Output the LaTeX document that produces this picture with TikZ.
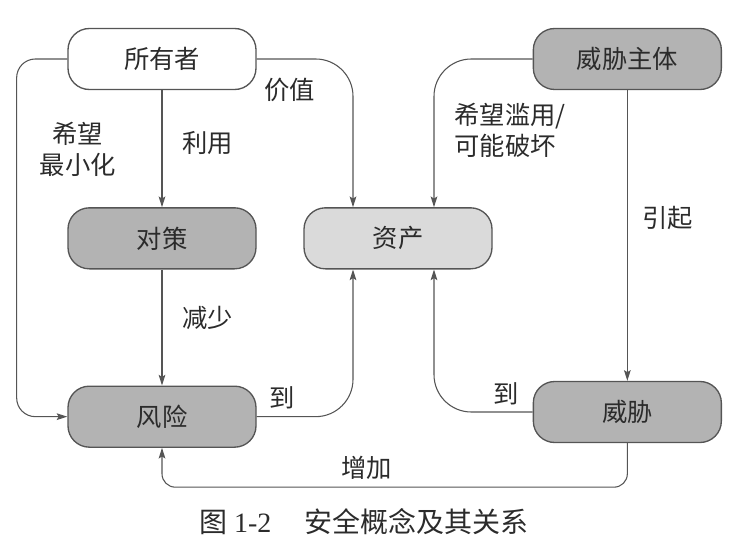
\documentclass[tikz,border=0pt]{standalone}
\usepackage{fontspec}
\usepackage{xcolor}
\usepackage{tikz}
\usetikzlibrary{arrows.meta,positioning,calc}
\setmainfont{Liberation Serif}
\newfontfamily\cjk{Noto Sans CJK SC}
\definecolor{Edge}{HTML}{555555}
\definecolor{Ink}{HTML}{2B2B2B}
\definecolor{Shade}{HTML}{B3B3B3}
\definecolor{ShadeSoft}{HTML}{DADADA}
\tikzset{
  party/.style={draw=Edge,fill=white,line width=1pt,rounded corners=16pt,minimum width=141pt,minimum height=45.75pt,align=center,text=Ink,font=\cjk\fontsize{19}{23}\selectfont},
  dark/.style={party,fill=Shade},
  light/.style={party,fill=ShadeSoft},
  link/.style={-{Stealth[length=8pt,width=5pt,inset=1.5pt]},draw=Edge,line width=.8pt,rounded corners=14pt},
  wide/.style={link,rounded corners=28pt},
  lbl/.style={inner sep=0pt,text=Ink,font=\cjk\fontsize{19}{23}\selectfont}
}
\begin{document}
\begin{tikzpicture}[x=.75pt,y=-.75pt]
  \useasboundingbox (0,0) rectangle (749,556);
  \node[party] (owner) at (162,59) {所有者};
  \node[dark,below=87.75pt of owner] (counter) {对策};
  \node[dark,below=87pt of counter] (risk) {风险};
  \node[light,right=35pt of counter] (asset) {资产};
  \node[dark,right=207pt of owner] (agent) {威胁主体};
  \node[dark,below=218pt of agent] (threat) {威胁};
  \draw[link] (owner) -- node[lbl,right=15pt,pos=.45] {利用} (counter);
  \draw[link] (counter) -- node[lbl,right=15pt,pos=.42] {减少} (risk);
  \draw[link] (agent) -- node[lbl,right=11pt,pos=.44] {引起} (threat);
  \draw[link] (owner.west) -- ++(-38pt,0) |- node[lbl,right=17pt,pos=.126,align=center] {希望\\最小化} (risk.west);
  \draw[wide] (owner.east) -| node[lbl,below=14pt,pos=.17] {价值} ([xshift=-33.75pt]asset.north);
  \draw[wide] (agent.west) -| node[lbl,right=15pt,pos=.74,align=left] {希望滥用/\\可能破坏} ([xshift=27pt]asset.north);
  \draw[wide] (risk.east) -| node[lbl,above=5pt,pos=.13] {到} ([xshift=-33.75pt]asset.south);
  \draw[wide] (threat.west) -| node[lbl,above=5pt,pos=.135] {到} ([xshift=27pt]asset.south);
  \draw[link,rounded corners=10pt] (threat.south) -- ++(0,-33pt) -| node[lbl,above=5pt,pos=.28] {增加} (risk.south);
  \node[text=Ink,font=\fontsize{21}{25}\selectfont] (caption) at (364,522) {{\cjk 图} 1-2\hspace{1.2em}{\cjk 安全概念及其关系}};
\end{tikzpicture}
\end{document}
